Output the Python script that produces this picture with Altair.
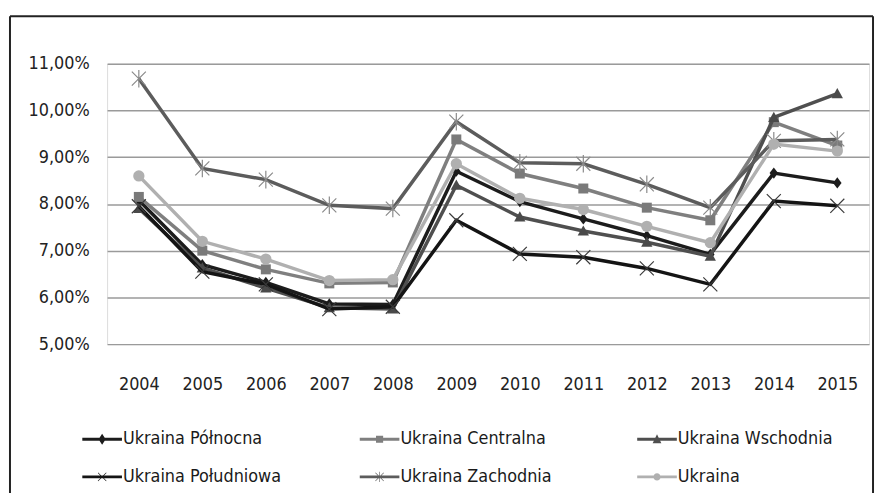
import altair as alt
import pandas as pd

years = [str(y) for y in range(2004, 2016)]
series = ["Ukraina Północna", "Ukraina Centralna", "Ukraina Wschodnia",
          "Ukraina Południowa", "Ukraina Zachodnia", "Ukraina"]

polnocna   = [8.08, 6.70, 6.32, 5.86, 5.85, 8.70, 8.05, 7.68, 7.32, 6.92, 8.66, 8.45]
centralna  = [8.15, 7.00, 6.60, 6.30, 6.32, 9.38, 8.65, 8.33, 7.92, 7.65, 9.75, 9.25]
wschodnia  = [7.90, 6.63, 6.20, 5.78, 5.75, 8.40, 7.72, 7.42, 7.18, 6.88, 9.85, 10.36]
poludniowa = [7.95, 6.55, 6.28, 5.75, 5.80, 7.65, 6.93, 6.86, 6.62, 6.28, 8.06, 7.96]
zachodnia  = [10.68, 8.76, 8.52, 7.97, 7.90, 9.76, 8.88, 8.86, 8.42, 7.92, 9.35, 9.38]
ukraina    = [8.60, 7.20, 6.82, 6.36, 6.38, 8.86, 8.12, 7.88, 7.52, 7.17, 9.28, 9.13]

values = [polnocna, centralna, wschodnia, poludniowa, zachodnia, ukraina]
y_ticks = [5, 6, 7, 8, 9, 10, 11]

rows = []
for s, vals in zip(series, values):
    for yr, v in zip(years, vals):
        rows.append({"year": yr, "series": s, "value": v})
df = pd.DataFrame(rows)

FONT = "Liberation Sans Narrow, DejaVu Sans Condensed, Liberation Sans, sans-serif"

line_colors = ["#1c1c1c", "#7f7f7f", "#4f4f4f", "#141414", "#5c5c5c", "#b0b0b0"]
marker_colors = ["#1c1c1c", "#7a7a7a", "#4a4a4a", "#3a3a3a", "#8a8a8a", "#b0b0b0"]
marker_paths = [
    "M0,-1L0.75,0L0,1L-0.75,0Z",
    "M-0.9,-0.9L0.9,-0.9L0.9,0.9L-0.9,0.9Z",
    "M0,-1L1,0.8L-1,0.8Z",
    "M-1,-1L1,1M1,-1L-1,1",
    "M-1,-1L1,1M1,-1L-1,1M0,-1.25L0,1.25",
    "circle",
]
marker_filled = [True, True, True, False, False, True]
marker_sizes = [130, 125, 130, 200, 200, 130]

LINE = "M-1,-0.07L1,-0.07L1,0.07L-1,0.07Z"
legend_paths = [
    LINE + "M0,-0.28L0.18,0L0,0.28L-0.18,0Z",
    LINE + "M-0.18,-0.18L0.18,-0.18L0.18,0.18L-0.18,0.18Z",
    LINE + "M0,-0.25L0.22,0.2L-0.22,0.2Z",
    LINE + "M-0.22,-0.2L-0.2,-0.22L0.22,0.2L0.2,0.22Z M0.2,-0.22L0.22,-0.2L-0.2,0.22L-0.22,0.2Z",
    LINE + "M-0.22,-0.2L-0.2,-0.22L0.22,0.2L0.2,0.22Z M0.2,-0.22L0.22,-0.2L-0.2,0.22L-0.22,0.2Z M-0.015,-0.26L0.015,-0.26L0.015,0.26L-0.015,0.26Z",
    LINE + "M-0.18,0A0.18,0.18,0,1,1,0.18,0A0.18,0.18,0,1,1,-0.18,0Z",
]

x_enc = alt.X("year:O", title=None, sort=years,
              axis=alt.Axis(domain=False, ticks=False, labelAngle=0, labelPadding=32,
                            labelFont=FONT, labelFontSize=18, labelColor="#222222", grid=False))
y_enc = alt.Y("value:Q", title=None,
              scale=alt.Scale(domain=[5, 11], nice=False, zero=False),
              axis=alt.Axis(values=y_ticks, domain=False, ticks=False, labelPadding=18,
                            labelExpr="replace(format(datum.value, '.2f'), '.', ',') + '%'",
                            labelFont=FONT, labelFontSize=18, labelColor="#222222",
                            grid=True, gridColor="#9a9a9a", gridWidth=1.5))

base = alt.Chart(df)

layers = []
# frame
one = alt.Data(values=[{}])
layers.append(alt.Chart(one).mark_rule(color="#222222", strokeWidth=2).encode(
    x=alt.value(-98), y=alt.value(-48), y2=alt.value(450)))
layers.append(alt.Chart(one).mark_rule(color="#222222", strokeWidth=2).encode(
    x=alt.value(-98), x2=alt.value(773), y=alt.value(-48)))
layers.append(alt.Chart(one).mark_rule(color="#222222", strokeWidth=2).encode(
    x=alt.value(773), y=alt.value(-48), y2=alt.value(450)))

for i, s in enumerate(series):
    sub = base.transform_filter(alt.datum.series == s)
    layers.append(sub.mark_line(color=line_colors[i], strokeWidth=3.5).encode(x=x_enc, y=y_enc))
    if marker_filled[i]:
        pt = sub.mark_point(shape=marker_paths[i], filled=True, size=marker_sizes[i],
                            color=marker_colors[i], opacity=1)
    else:
        pt = sub.mark_point(shape=marker_paths[i], filled=False, size=marker_sizes[i],
                            color=marker_colors[i], strokeWidth=1.2, opacity=1)
    layers.append(pt.encode(x=x_enc, y=y_enc))

legend = alt.Legend(title=None, orient="none", legendX=-25, legendY=359, columns=3,
                    direction="horizontal",
                    gridAlign="all", columnPadding=79, rowPadding=9,
                    labelFont=FONT, labelFontSize=18, labelColor="#1a1a1a",
                    labelOffset=1, symbolSize=1600, symbolStrokeWidth=0)
leg = base.transform_filter("false").mark_point(filled=True, size=1600, opacity=1).encode(
    color=alt.Color("series:N", scale=alt.Scale(domain=series, range=line_colors), legend=legend),
    shape=alt.Shape("series:N", scale=alt.Scale(domain=series, range=legend_paths), legend=legend),
)
layers.append(leg)

chart = alt.layer(*layers).properties(
    width=769, height=283,
    autosize=alt.AutoSizeParams(type="none"),
    padding={"left": 100, "top": 54, "right": 6, "bottom": 148},
).configure_view(stroke=None).configure(background="white")

chart.save("out.html", embed_options={"renderer": "svg", "actions": False})
